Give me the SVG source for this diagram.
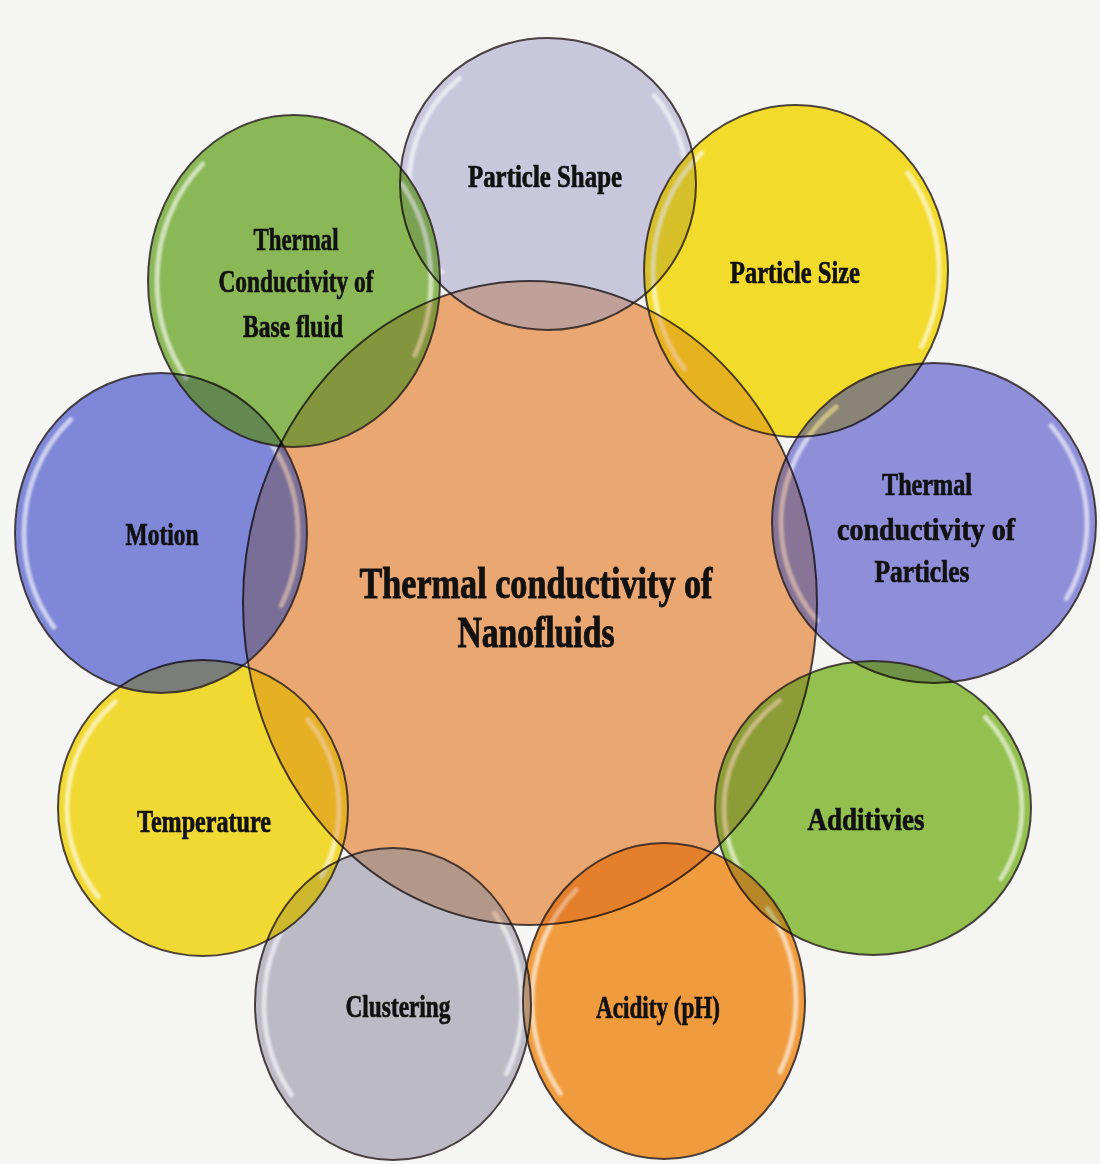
<svg xmlns="http://www.w3.org/2000/svg" width="1100" height="1164" viewBox="0 0 1100 1164">
<style>
.n{stroke:#2e2626;stroke-width:2;stroke-opacity:0.85}
.o{fill:none;stroke:#2e2626;stroke-width:2;stroke-opacity:0.85}
.hl{fill:none;stroke:#ffffff;stroke-width:5;stroke-opacity:0.6;stroke-dasharray:25 25 19.4 30.6;stroke-dashoffset:61.1;stroke-linecap:round;filter:url(#soft)}
.lz{mix-blend-mode:multiply}
.lens{fill-opacity:0.55;stroke:none}
.t{font-family:"Liberation Serif","DejaVu Serif",serif;font-weight:bold;font-size:32px;fill:#111;stroke:#111;stroke-width:0.7;text-anchor:middle}
.tc{font-family:"Liberation Serif","DejaVu Serif",serif;font-weight:bold;font-size:44px;fill:#111;stroke:#111;stroke-width:0.9;text-anchor:middle}
</style>
<defs>
<filter id="soft" x="-10%" y="-10%" width="120%" height="120%"><feGaussianBlur stdDeviation="1.2"/></filter>
<clipPath id="k1"><ellipse cx="548" cy="184" rx="148" ry="146"/></clipPath>
<clipPath id="k2"><ellipse cx="796" cy="271" rx="152" ry="166"/></clipPath>
<clipPath id="k3"><ellipse cx="934" cy="523" rx="162" ry="160"/></clipPath>
<clipPath id="k4"><ellipse cx="873" cy="808" rx="158" ry="147"/></clipPath>
<clipPath id="k5"><ellipse cx="664" cy="1001" rx="141" ry="158"/></clipPath>
<clipPath id="k6"><ellipse cx="393" cy="1004" rx="138" ry="156"/></clipPath>
<clipPath id="k7"><ellipse cx="203" cy="808" rx="145" ry="148"/></clipPath>
<clipPath id="k8"><ellipse cx="161" cy="533" rx="146" ry="160"/></clipPath>
<clipPath id="k9"><ellipse cx="294" cy="281" rx="146" ry="166"/></clipPath>
</defs>
<rect width="1100" height="1164" fill="#f5f5f3"/>
<g id="center">
<ellipse class="n" cx="530" cy="603" rx="287" ry="322" fill="#eaa772"/>
<text class="tc" x="536" y="598" textLength="353" lengthAdjust="spacingAndGlyphs">Thermal conductivity of</text>
<text class="tc" x="536" y="647" textLength="157" lengthAdjust="spacingAndGlyphs">Nanofluids</text>
</g>
<g id="particle-shape">
<ellipse class="n" cx="548" cy="184" rx="148" ry="146" fill="#c9c7dc"/>
<ellipse class="hl" cx="548" cy="184" rx="139" ry="137" pathLength="100"/>
<text class="t" x="545" y="187" textLength="154" lengthAdjust="spacingAndGlyphs">Particle Shape</text>
</g>
<g id="particle-size">
<ellipse class="n" cx="796" cy="271" rx="152" ry="166" fill="#f3db2c"/>
<ellipse class="hl" cx="796" cy="271" rx="143" ry="157" pathLength="100"/>
<text class="t" x="795" y="283" textLength="130" lengthAdjust="spacingAndGlyphs">Particle Size</text>
</g>
<g id="thermal-conductivity-particles">
<ellipse class="n" cx="934" cy="523" rx="162" ry="160" fill="#8e8fd8"/>
<ellipse class="hl" cx="934" cy="523" rx="153" ry="151" pathLength="100"/>
<text class="t" x="927" y="495" textLength="90" lengthAdjust="spacingAndGlyphs">Thermal</text>
<text class="t" x="926" y="540" textLength="178" lengthAdjust="spacingAndGlyphs">conductivity  of</text>
<text class="t" x="922" y="582" textLength="95" lengthAdjust="spacingAndGlyphs">Particles</text>
</g>
<g id="additivies">
<ellipse class="n" cx="873" cy="808" rx="158" ry="147" fill="#93c04e"/>
<ellipse class="hl" cx="873" cy="808" rx="149" ry="138" pathLength="100"/>
<text class="t" x="866" y="830" textLength="117" lengthAdjust="spacingAndGlyphs">Additivies</text>
</g>
<g id="acidity">
<ellipse class="n" cx="664" cy="1001" rx="141" ry="158" fill="#f09c3e"/>
<ellipse class="hl" cx="664" cy="1001" rx="132" ry="149" pathLength="100"/>
<text class="t" x="658" y="1018" textLength="124" lengthAdjust="spacingAndGlyphs">Acidity (pH)</text>
</g>
<g id="clustering">
<ellipse class="n" cx="393" cy="1004" rx="138" ry="156" fill="#bcbac4"/>
<ellipse class="hl" cx="393" cy="1004" rx="129" ry="147" pathLength="100"/>
<text class="t" x="398" y="1017" textLength="105" lengthAdjust="spacingAndGlyphs">Clustering</text>
</g>
<g id="temperature">
<ellipse class="n" cx="203" cy="808" rx="145" ry="148" fill="#f1d933"/>
<ellipse class="hl" cx="203" cy="808" rx="136" ry="139" pathLength="100"/>
<text class="t" x="204" y="832" textLength="134" lengthAdjust="spacingAndGlyphs">Temperature</text>
</g>
<g id="motion">
<ellipse class="n" cx="161" cy="533" rx="146" ry="160" fill="#7f88d8"/>
<ellipse class="hl" cx="161" cy="533" rx="137" ry="151" pathLength="100"/>
<text class="t" x="162" y="545" textLength="73" lengthAdjust="spacingAndGlyphs">Motion</text>
</g>
<g id="thermal-conductivity-base-fluid">
<ellipse class="n" cx="294" cy="281" rx="146" ry="166" fill="#8ab857"/>
<ellipse class="hl" cx="294" cy="281" rx="137" ry="157" pathLength="100"/>
<text class="t" x="296" y="250" textLength="85" lengthAdjust="spacingAndGlyphs">Thermal</text>
<text class="t" x="296" y="292" textLength="155" lengthAdjust="spacingAndGlyphs">Conductivity of</text>
<text class="t" x="293" y="337" textLength="100" lengthAdjust="spacingAndGlyphs">Base fluid</text>
</g>
<g id="overlaps">
<g class="lz" clip-path="url(#k1)"><ellipse class="lens" cx="530" cy="603" rx="287" ry="322" fill="#eaa772"/><ellipse class="o" cx="530" cy="603" rx="287" ry="322"/></g>
<g class="lz" clip-path="url(#k2)"><ellipse class="lens" cx="530" cy="603" rx="287" ry="322" fill="#eaa772"/><ellipse class="o" cx="530" cy="603" rx="287" ry="322"/></g>
<g class="lz" clip-path="url(#k3)"><ellipse class="lens" cx="530" cy="603" rx="287" ry="322" fill="#eaa772"/><ellipse class="o" cx="530" cy="603" rx="287" ry="322"/></g>
<g class="lz" clip-path="url(#k4)"><ellipse class="lens" cx="530" cy="603" rx="287" ry="322" fill="#eaa772"/><ellipse class="o" cx="530" cy="603" rx="287" ry="322"/></g>
<g class="lz" clip-path="url(#k5)"><ellipse class="lens" cx="530" cy="603" rx="287" ry="322" fill="#eaa772"/><ellipse class="o" cx="530" cy="603" rx="287" ry="322"/></g>
<g class="lz" clip-path="url(#k6)"><ellipse class="lens" cx="530" cy="603" rx="287" ry="322" fill="#eaa772"/><ellipse class="o" cx="530" cy="603" rx="287" ry="322"/></g>
<g class="lz" clip-path="url(#k7)"><ellipse class="lens" cx="530" cy="603" rx="287" ry="322" fill="#eaa772"/><ellipse class="o" cx="530" cy="603" rx="287" ry="322"/></g>
<g class="lz" clip-path="url(#k8)"><ellipse class="lens" cx="530" cy="603" rx="287" ry="322" fill="#eaa772"/><ellipse class="o" cx="530" cy="603" rx="287" ry="322"/></g>
<g class="lz" clip-path="url(#k9)"><ellipse class="lens" cx="530" cy="603" rx="287" ry="322" fill="#eaa772"/><ellipse class="o" cx="530" cy="603" rx="287" ry="322"/></g>
<g class="lz" clip-path="url(#k2)"><ellipse class="lens" cx="548" cy="184" rx="148" ry="146" fill="#c9c7dc"/><ellipse class="o" cx="548" cy="184" rx="148" ry="146"/></g>
<g class="lz" clip-path="url(#k3)"><ellipse class="lens" cx="796" cy="271" rx="152" ry="166" fill="#f3db2c"/><ellipse class="o" cx="796" cy="271" rx="152" ry="166"/></g>
<g class="lz" clip-path="url(#k4)"><ellipse class="lens" cx="934" cy="523" rx="162" ry="160" fill="#8e8fd8"/><ellipse class="o" cx="934" cy="523" rx="162" ry="160"/></g>
<g class="lz" clip-path="url(#k5)"><ellipse class="lens" cx="873" cy="808" rx="158" ry="147" fill="#93c04e"/><ellipse class="o" cx="873" cy="808" rx="158" ry="147"/></g>
<g class="lz" clip-path="url(#k6)"><ellipse class="lens" cx="664" cy="1001" rx="141" ry="158" fill="#f09c3e"/><ellipse class="o" cx="664" cy="1001" rx="141" ry="158"/></g>
<g class="lz" clip-path="url(#k7)"><ellipse class="lens" cx="393" cy="1004" rx="138" ry="156" fill="#bcbac4"/><ellipse class="o" cx="393" cy="1004" rx="138" ry="156"/></g>
<g class="lz" clip-path="url(#k8)"><ellipse class="lens" cx="203" cy="808" rx="145" ry="148" fill="#f1d933"/><ellipse class="o" cx="203" cy="808" rx="145" ry="148"/></g>
<g class="lz" clip-path="url(#k9)"><ellipse class="lens" cx="161" cy="533" rx="146" ry="160" fill="#7f88d8"/><ellipse class="o" cx="161" cy="533" rx="146" ry="160"/></g>
<g class="lz" clip-path="url(#k9)"><ellipse class="lens" cx="548" cy="184" rx="148" ry="146" fill="#c9c7dc"/><ellipse class="o" cx="548" cy="184" rx="148" ry="146"/></g>
</g>
<g id="connectors"></g>
</svg>
